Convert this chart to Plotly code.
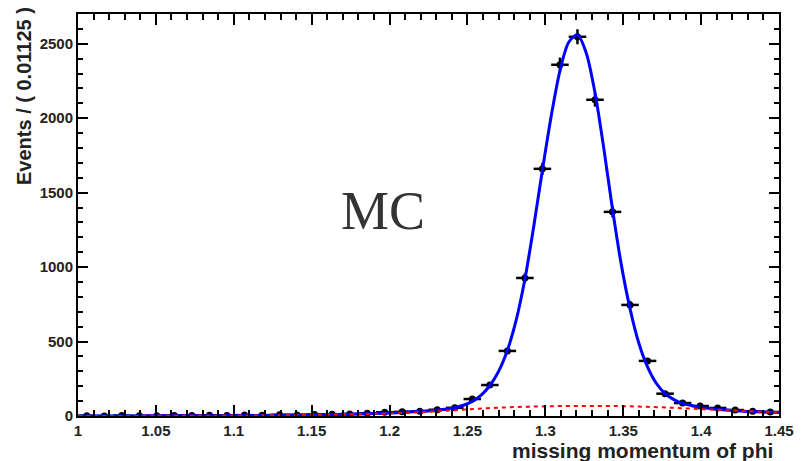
import plotly.graph_objects as go
import numpy as np

# ---- data ----
bin_width = 0.01125
bin_centers = [round(1.005625 + bin_width * i, 6) for i in range(40)]
counts = [2, 0, 3, 1, 2, 4, 3, 5, 4, 6,
          5, 8, 7, 10, 12, 14, 18, 25, 28, 32,
          42, 55, 114, 208, 437, 927, 1660, 2359, 2547, 2124,
          1371, 746, 370, 150, 87, 67, 54, 40, 32, 27]

fit_x = [1.000, 1.025, 1.050, 1.075, 1.100, 1.125, 1.150, 1.175, 1.200, 1.215,
         1.230, 1.240, 1.2475, 1.2531, 1.2588, 1.2644, 1.2700, 1.2756, 1.2812, 1.2869,
         1.2925, 1.2981, 1.3037, 1.3094, 1.3150, 1.3206, 1.3262, 1.3319, 1.3375, 1.3431,
         1.3487, 1.3544, 1.3600, 1.3656, 1.3712, 1.3769, 1.3825, 1.3881, 1.3938, 1.400,
         1.410, 1.420, 1.430, 1.440, 1.450]
fit_y = [0, 0, 1, 2, 3, 5, 8, 12, 20, 28,
         40, 52, 72, 98, 140, 205, 300, 440, 640, 920,
         1270, 1650, 2010, 2320, 2510, 2560, 2440, 2170, 1800, 1390,
         1020, 720, 490, 330, 220, 150, 110, 85, 70, 58,
         45, 37, 31, 27, 24]

bkg_x = [1.00, 1.05, 1.10, 1.125, 1.15, 1.175, 1.20, 1.225, 1.25, 1.275,
         1.30, 1.325, 1.35, 1.375, 1.40, 1.425, 1.45]
bkg_y = [0, 1, 3, 5, 8, 12, 17, 28, 45, 58,
         65, 68, 66, 58, 46, 35, 24]

x_title = "missing momentum of phi"
y_title = "Events / ( 0.01125 )"
label_text = "MC"

SANS = "Liberation Sans, Arial, sans-serif"

fig = go.Figure()

fig.add_trace(go.Scatter(
    x=bin_centers, y=counts, mode="markers",
    marker=dict(color="black", size=7, symbol="circle"),
    error_x=dict(type="constant", value=bin_width / 2, color="black", thickness=2.5, width=0),
    error_y=dict(type="data", array=list(np.sqrt(counts)), color="black", thickness=2.5, width=0),
    showlegend=False, hoverinfo="skip"))

fig.add_trace(go.Scatter(
    x=fit_x, y=fit_y, mode="lines",
    line=dict(color="#0000ff", width=3, shape="spline", smoothing=0.8),
    showlegend=False))

fig.add_trace(go.Scatter(
    x=bkg_x, y=bkg_y, mode="lines",
    line=dict(color="#ff0000", width=2, dash="4px,4px", shape="spline"),
    showlegend=False))

axis_common = dict(
    showgrid=False, zeroline=False, showline=True, linecolor="black", linewidth=2,
    mirror="ticks", ticks="inside", tickcolor="black", tickwidth=2,
    tickfont=dict(family=SANS, size=15, color="#222222", weight="bold"),
)

fig.update_xaxes(range=[1.0, 1.45], dtick=0.05, tick0=1.0, ticklen=11,
                 minor=dict(ticks="inside", dtick=0.01, ticklen=6, tickcolor="black", tickwidth=2),
                 **axis_common)
fig.update_yaxes(range=[0, 2700], dtick=500, tick0=0, ticklen=10,
                 minor=dict(ticks="inside", dtick=100, ticklen=5, tickcolor="black", tickwidth=2),
                 **axis_common)

fig.add_annotation(text=x_title, xref="paper", yref="paper", x=1.0, y=0, yshift=-21, xshift=-4,
                   xanchor="right", yanchor="top", showarrow=False,
                   font=dict(family=SANS, size=21, color="#222222", weight="bold"))
fig.add_annotation(text=y_title, xref="paper", yref="paper", x=0, y=1.0, xshift=-67, yshift=9,
                   xanchor="left", yanchor="top", textangle=-90, showarrow=False,
                   font=dict(family=SANS, size=20, color="#222222", weight="bold"))
fig.add_annotation(text=label_text, x=1.1955, y=1380, xref="x", yref="y", showarrow=False,
                   font=dict(family="Liberation Serif, Times New Roman, serif", size=54, color="#333333"))

fig.update_layout(
    width=806, height=461,
    margin=dict(l=78, r=21, t=13, b=45),
    plot_bgcolor="white", paper_bgcolor="white",
)

fig.write_html("out.html")
